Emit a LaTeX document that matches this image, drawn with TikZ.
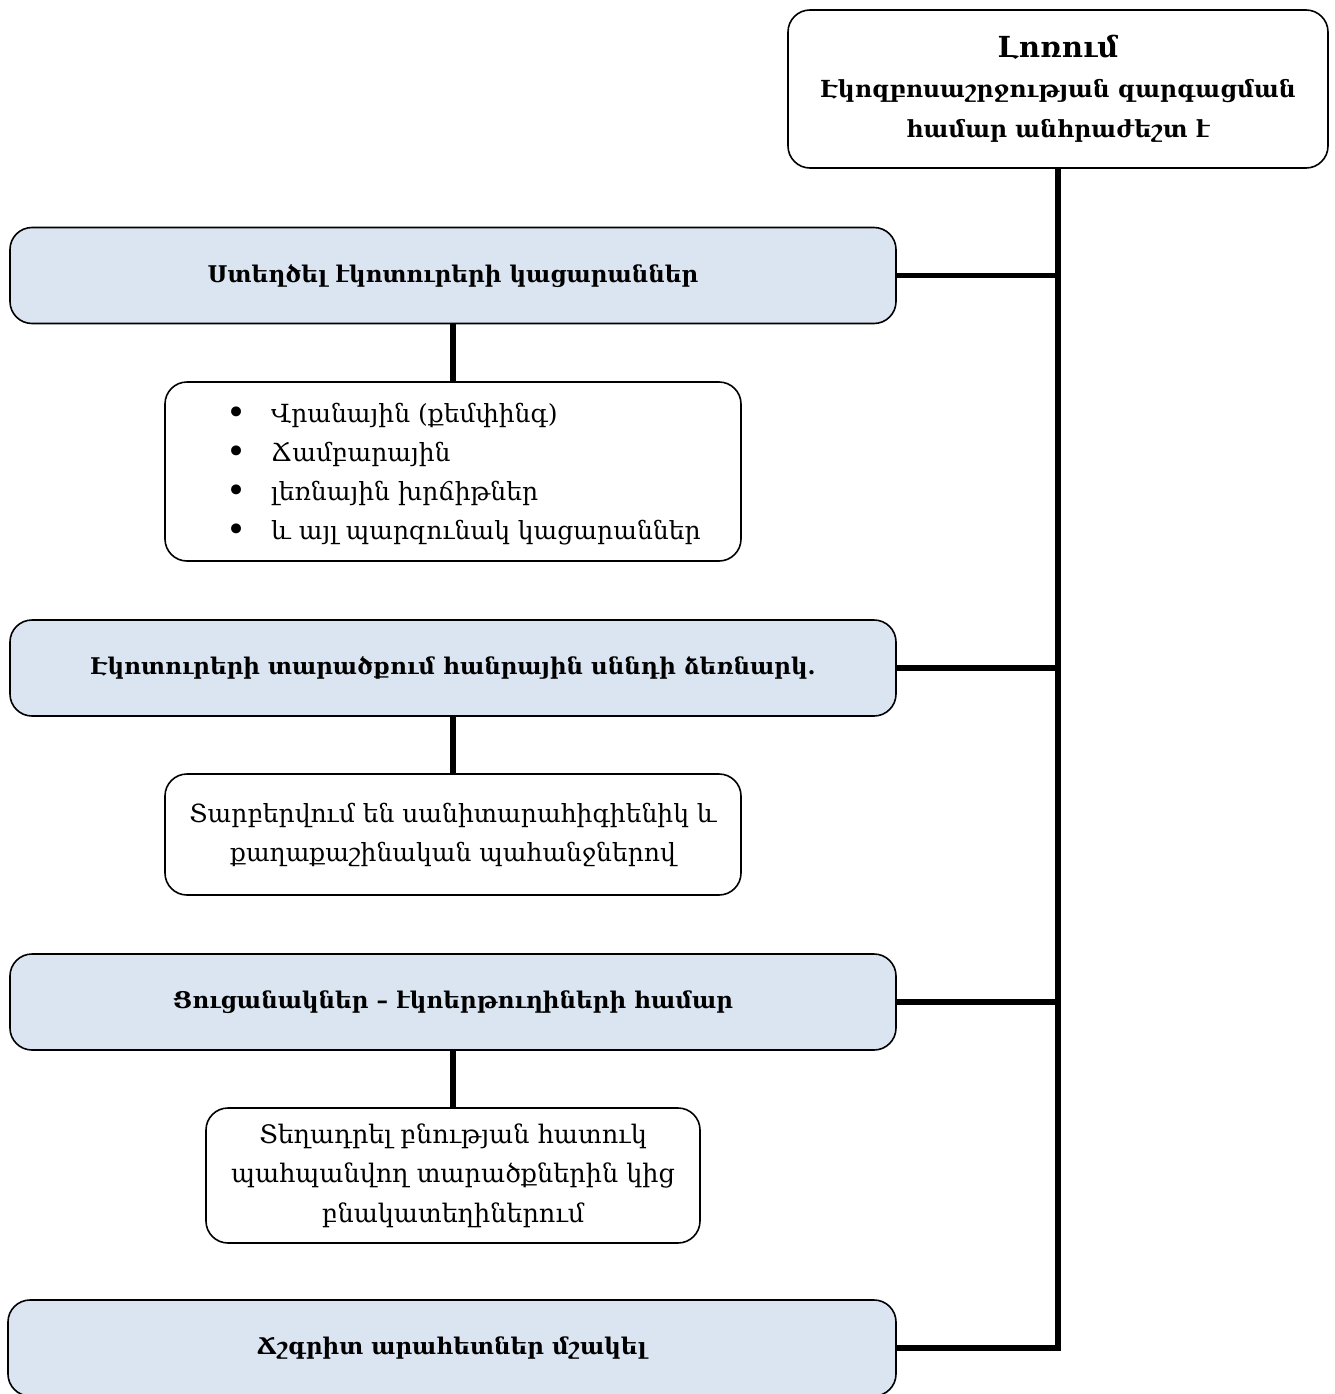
\documentclass[tikz,border=0pt]{standalone}
\usepackage{fontspec}
\setmainfont{DejaVu Serif}
\definecolor{headfill}{HTML}{DBE5F1}
\newcommand{\bul}{\makebox[45pt][l]{\fontsize{34}{39}\selectfont\raisebox{-2pt}{•}}}
\begin{document}
\begin{tikzpicture}[x=1pt,y=-1pt,
  box/.style={draw=black, line width=1.6pt, rounded corners=22pt, align=center, inner sep=0pt},
  headbox/.style={box, fill=headfill, minimum width=886pt, minimum height=96pt, font=\fontsize{23}{30}\selectfont\bfseries},
  subbox/.style={box, fill=white, font=\fontsize{25}{39}\selectfont},
  conn/.style={line width=5.5pt, line cap=butt}]
\useasboundingbox (0,0) rectangle (1335,1394);
\fill[white] (0,0) rectangle (1335,1394);

\node[box, minimum width=540pt, minimum height=158pt, font=\fontsize{23.5}{40}\selectfont\bfseries] (top) at (1058,89)
  {{\fontsize{29}{40}\selectfont Լոռում}\\Էկոզբոսաշրջության զարգացման\\համար անհրաժեշտ է};

\node[headbox] (h1) at (453,275.5) {Ստեղծել էկոտուրերի կացարաններ};
\node[subbox, minimum width=576pt, minimum height=179pt] (b1) at (453,471.5) {};
\node[anchor=west, inner sep=0pt, align=left, font=\fontsize{25}{39}\selectfont] (b1t) at (226,474)
  {\bul Վրանային (քեմփինգ)\\
   \bul Ճամբարային\\
   \bul լեռնային խրճիթներ\\
   \bul և այլ պարզունակ կացարաններ};

\node[headbox] (h2) at (453,668) {Էկոտուրերի տարածքում հանրային սննդի ձեռնարկ.};
\node[subbox, minimum width=576pt, minimum height=121pt] (b2) at (453,834.5)
  {Տարբերվում են սանիտարահիգիենիկ և\\քաղաքաշինական պահանջներով};

\node[headbox] (h3) at (453,1002) {Ցուցանակներ – էկոերթուղիների համար};
\node[subbox, minimum width=494pt, minimum height=135pt, font=\fontsize{25.5}{39.5}\selectfont] (b3) at (453,1175.5)
  {Տեղադրել բնության հատուկ\\պահպանվող տարածքներին կից\\բնակատեղիներում};

\node[headbox, minimum width=888pt] (h4) at (452,1348) {Ճշգրիտ արահետներ մշակել};

\draw[conn] (top.south) |- (h4.east);
\draw[conn] (h1.east) -- (h1.east -| top.south);
\draw[conn] (h2.east) -- (h2.east -| top.south);
\draw[conn] (h3.east) -- (h3.east -| top.south);
\draw[conn] (h1.south) -- (b1.north);
\draw[conn] (h2.south) -- (b2.north);
\draw[conn] (h3.south) -- (b3.north);
\end{tikzpicture}
\end{document}
